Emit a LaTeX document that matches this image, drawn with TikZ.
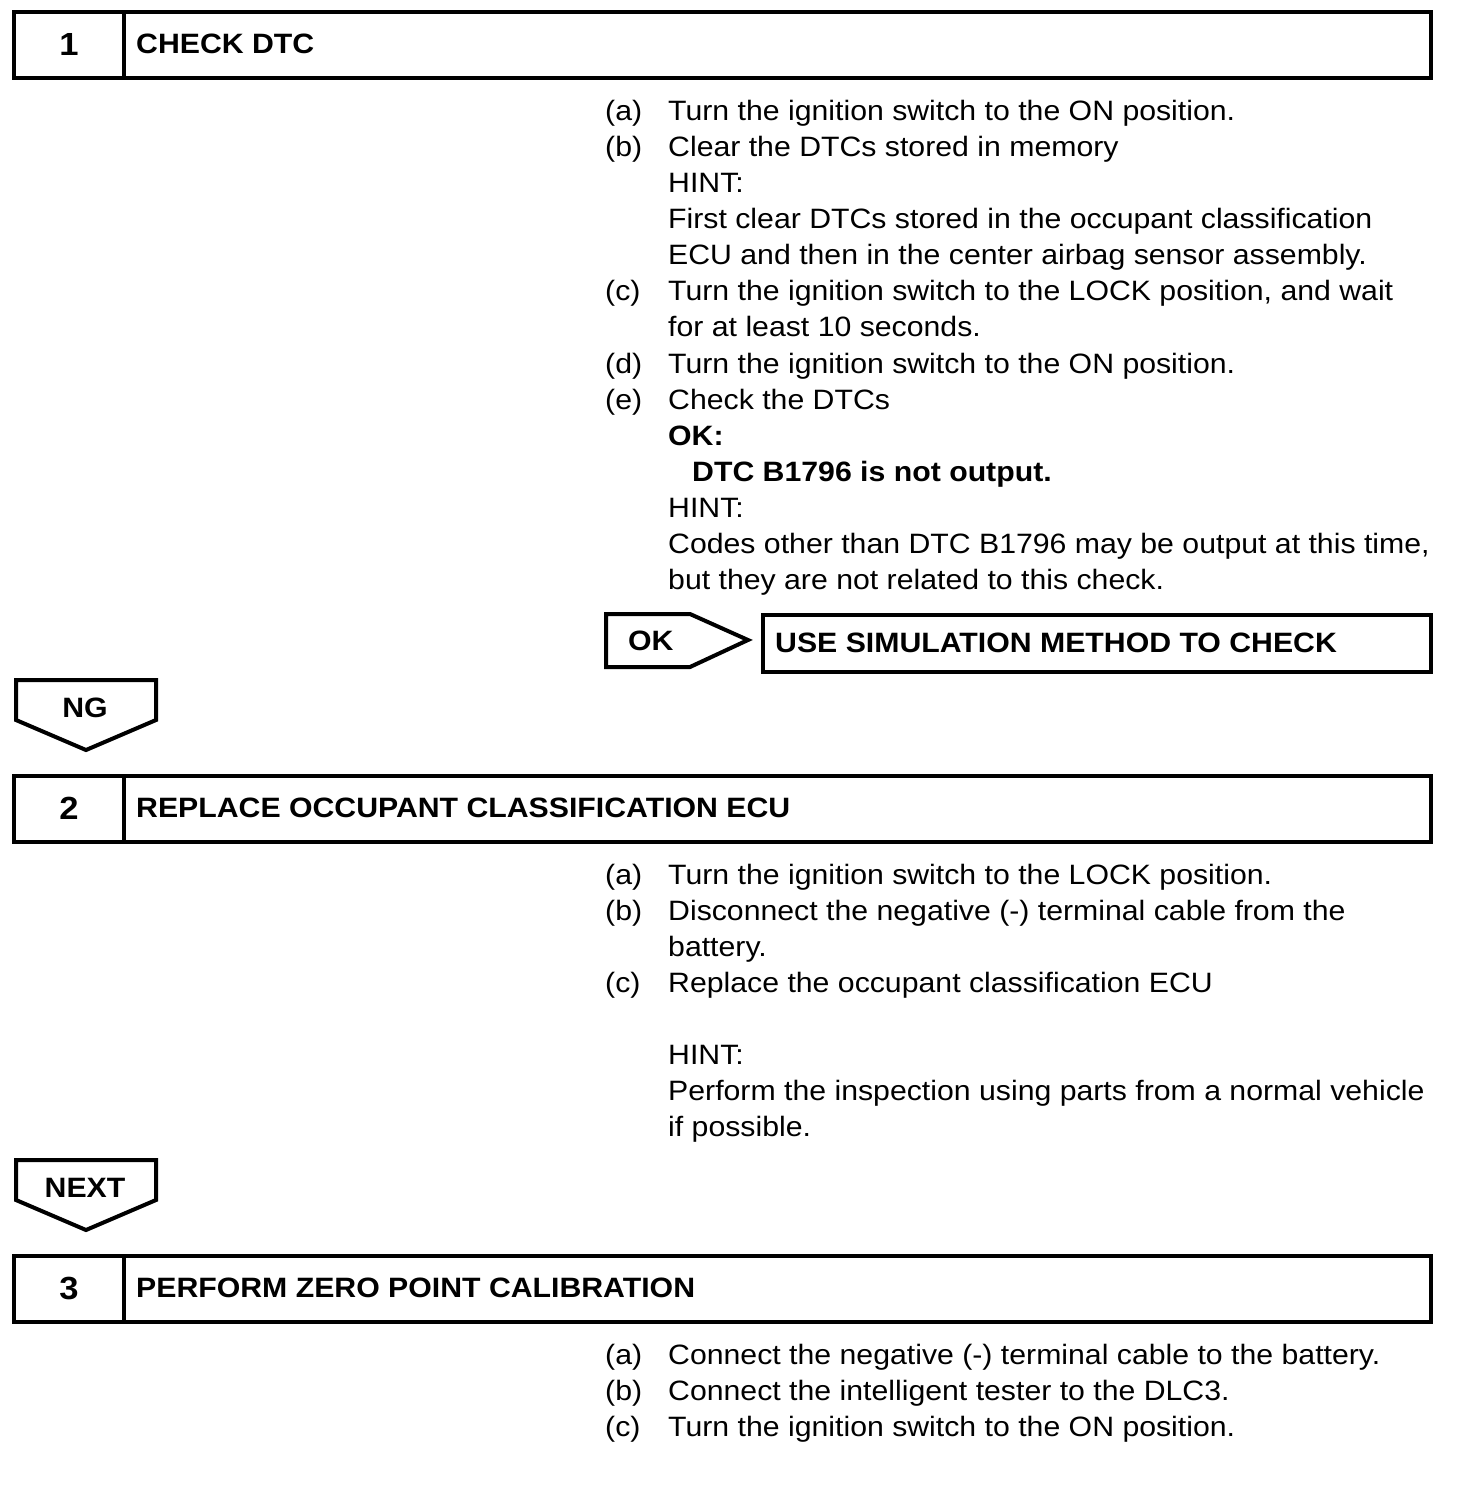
\documentclass[tikz,border=0pt]{standalone}
\usepackage{fontspec}
\setmainfont[FakeStretch=1.08]{Liberation Sans}
\begin{document}
\begin{tikzpicture}[x=1pt,y=-1pt,
  frame/.style={draw=black,line width=4pt,line join=miter},
  txt/.style={anchor=base west,inner sep=0pt,font=\fontsize{28}{32}\selectfont},
  btxt/.style={anchor=base west,inner sep=0pt,font=\fontsize{28}{32}\selectfont\bfseries},
  num/.style={anchor=base,inner sep=0pt,font=\fontsize{32}{36}\selectfont\bfseries},
  lbl/.style={anchor=base west,inner sep=0pt,font=\fontsize{28}{32}\selectfont}]
\useasboundingbox (0,0) rectangle (1472,1494);
% ---------- step 1 header
\draw[frame] (14,12) rectangle (1431,78);
\draw[frame] (124,12) -- (124,78);
\node[num] (n1) at (69,55) {1};
\node[btxt] (h1) at (136,53) {CHECK DTC};
% step 1 text
\node[lbl] (l1a) at (605,120) {(a)};
\node[txt] (t1a) at (668,120) {Turn the ignition switch to the ON position.};
\node[lbl] (l1b) at (605,156) {(b)};
\node[txt] (t1b) at (668,156) {Clear the DTCs stored in memory};
\node[txt] (t1b1) at (668,192) {HINT:};
\node[txt] (t1b2) at (668,228) {First clear DTCs stored in the occupant classification};
\node[txt] (t1b3) at (668,264) {ECU and then in the center airbag sensor assembly.};
\node[lbl] (l1c) at (605,300) {(c)};
\node[txt] (t1c) at (668,300) {Turn the ignition switch to the LOCK position, and wait};
\node[txt] (t1c1) at (668,336) {for at least 10 seconds.};
\node[lbl] (l1d) at (605,373) {(d)};
\node[txt] (t1d) at (668,373) {Turn the ignition switch to the ON position.};
\node[lbl] (l1e) at (605,409) {(e)};
\node[txt] (t1e) at (668,409) {Check the DTCs};
\node[btxt] (t1e1) at (668,445) {OK:};
\node[btxt] (t1e2) at (692,481) {DTC B1796 is not output.};
\node[txt] (t1e3) at (668,517) {HINT:};
\node[txt] (t1e4) at (668,553) {Codes other than DTC B1796 may be output at this time,};
\node[txt] (t1e5) at (668,589) {but they are not related to this check.};
% OK arrow and result box
\draw[frame] (606,614) -- (690,614) -- (748,640) -- (690,667) -- (606,667) -- cycle;
\node[btxt] (ok) at (628,650) {OK};
\draw[frame] (763,615) rectangle (1431,672);
\node[btxt] (use) at (775,652) {USE SIMULATION METHOD TO CHECK};
% NG arrow
\draw[frame] (16,680) -- (156,680) -- (156,720) -- (86,750) -- (16,720) -- cycle;
\node[btxt,anchor=base] (ng) at (85,717) {NG};
% ---------- step 2 header
\draw[frame] (14,776) rectangle (1431,842);
\draw[frame] (124,776) -- (124,842);
\node[num] (n2) at (69,819) {2};
\node[btxt] (h2) at (136,817) {REPLACE OCCUPANT CLASSIFICATION ECU};
\node[lbl] (l2a) at (605,884) {(a)};
\node[txt] (t2a) at (668,884) {Turn the ignition switch to the LOCK position.};
\node[lbl] (l2b) at (605,920) {(b)};
\node[txt] (t2b) at (668,920) {Disconnect the negative (-) terminal cable from the};
\node[txt] (t2b1) at (668,956) {battery.};
\node[lbl] (l2c) at (605,992) {(c)};
\node[txt] (t2c) at (668,992) {Replace the occupant classification ECU};
\node[txt] (t2c1) at (668,1064) {HINT:};
\node[txt] (t2c2) at (668,1100) {Perform the inspection using parts from a normal vehicle};
\node[txt] (t2c3) at (668,1136) {if possible.};
% NEXT arrow
\draw[frame] (16,1160) -- (156,1160) -- (156,1200) -- (86,1230) -- (16,1200) -- cycle;
\node[btxt,anchor=base] (next) at (85,1197) {NEXT};
% ---------- step 3 header
\draw[frame] (14,1256) rectangle (1431,1322);
\draw[frame] (124,1256) -- (124,1322);
\node[num] (n3) at (69,1299) {3};
\node[btxt] (h3) at (136,1297) {PERFORM ZERO POINT CALIBRATION};
\node[lbl] (l3a) at (605,1364) {(a)};
\node[txt] (t3a) at (668,1364) {Connect the negative (-) terminal cable to the battery.};
\node[lbl] (l3b) at (605,1400) {(b)};
\node[txt] (t3b) at (668,1400) {Connect the intelligent tester to the DLC3.};
\node[lbl] (l3c) at (605,1436) {(c)};
\node[txt] (t3c) at (668,1436) {Turn the ignition switch to the ON position.};
\end{tikzpicture}
\end{document}
